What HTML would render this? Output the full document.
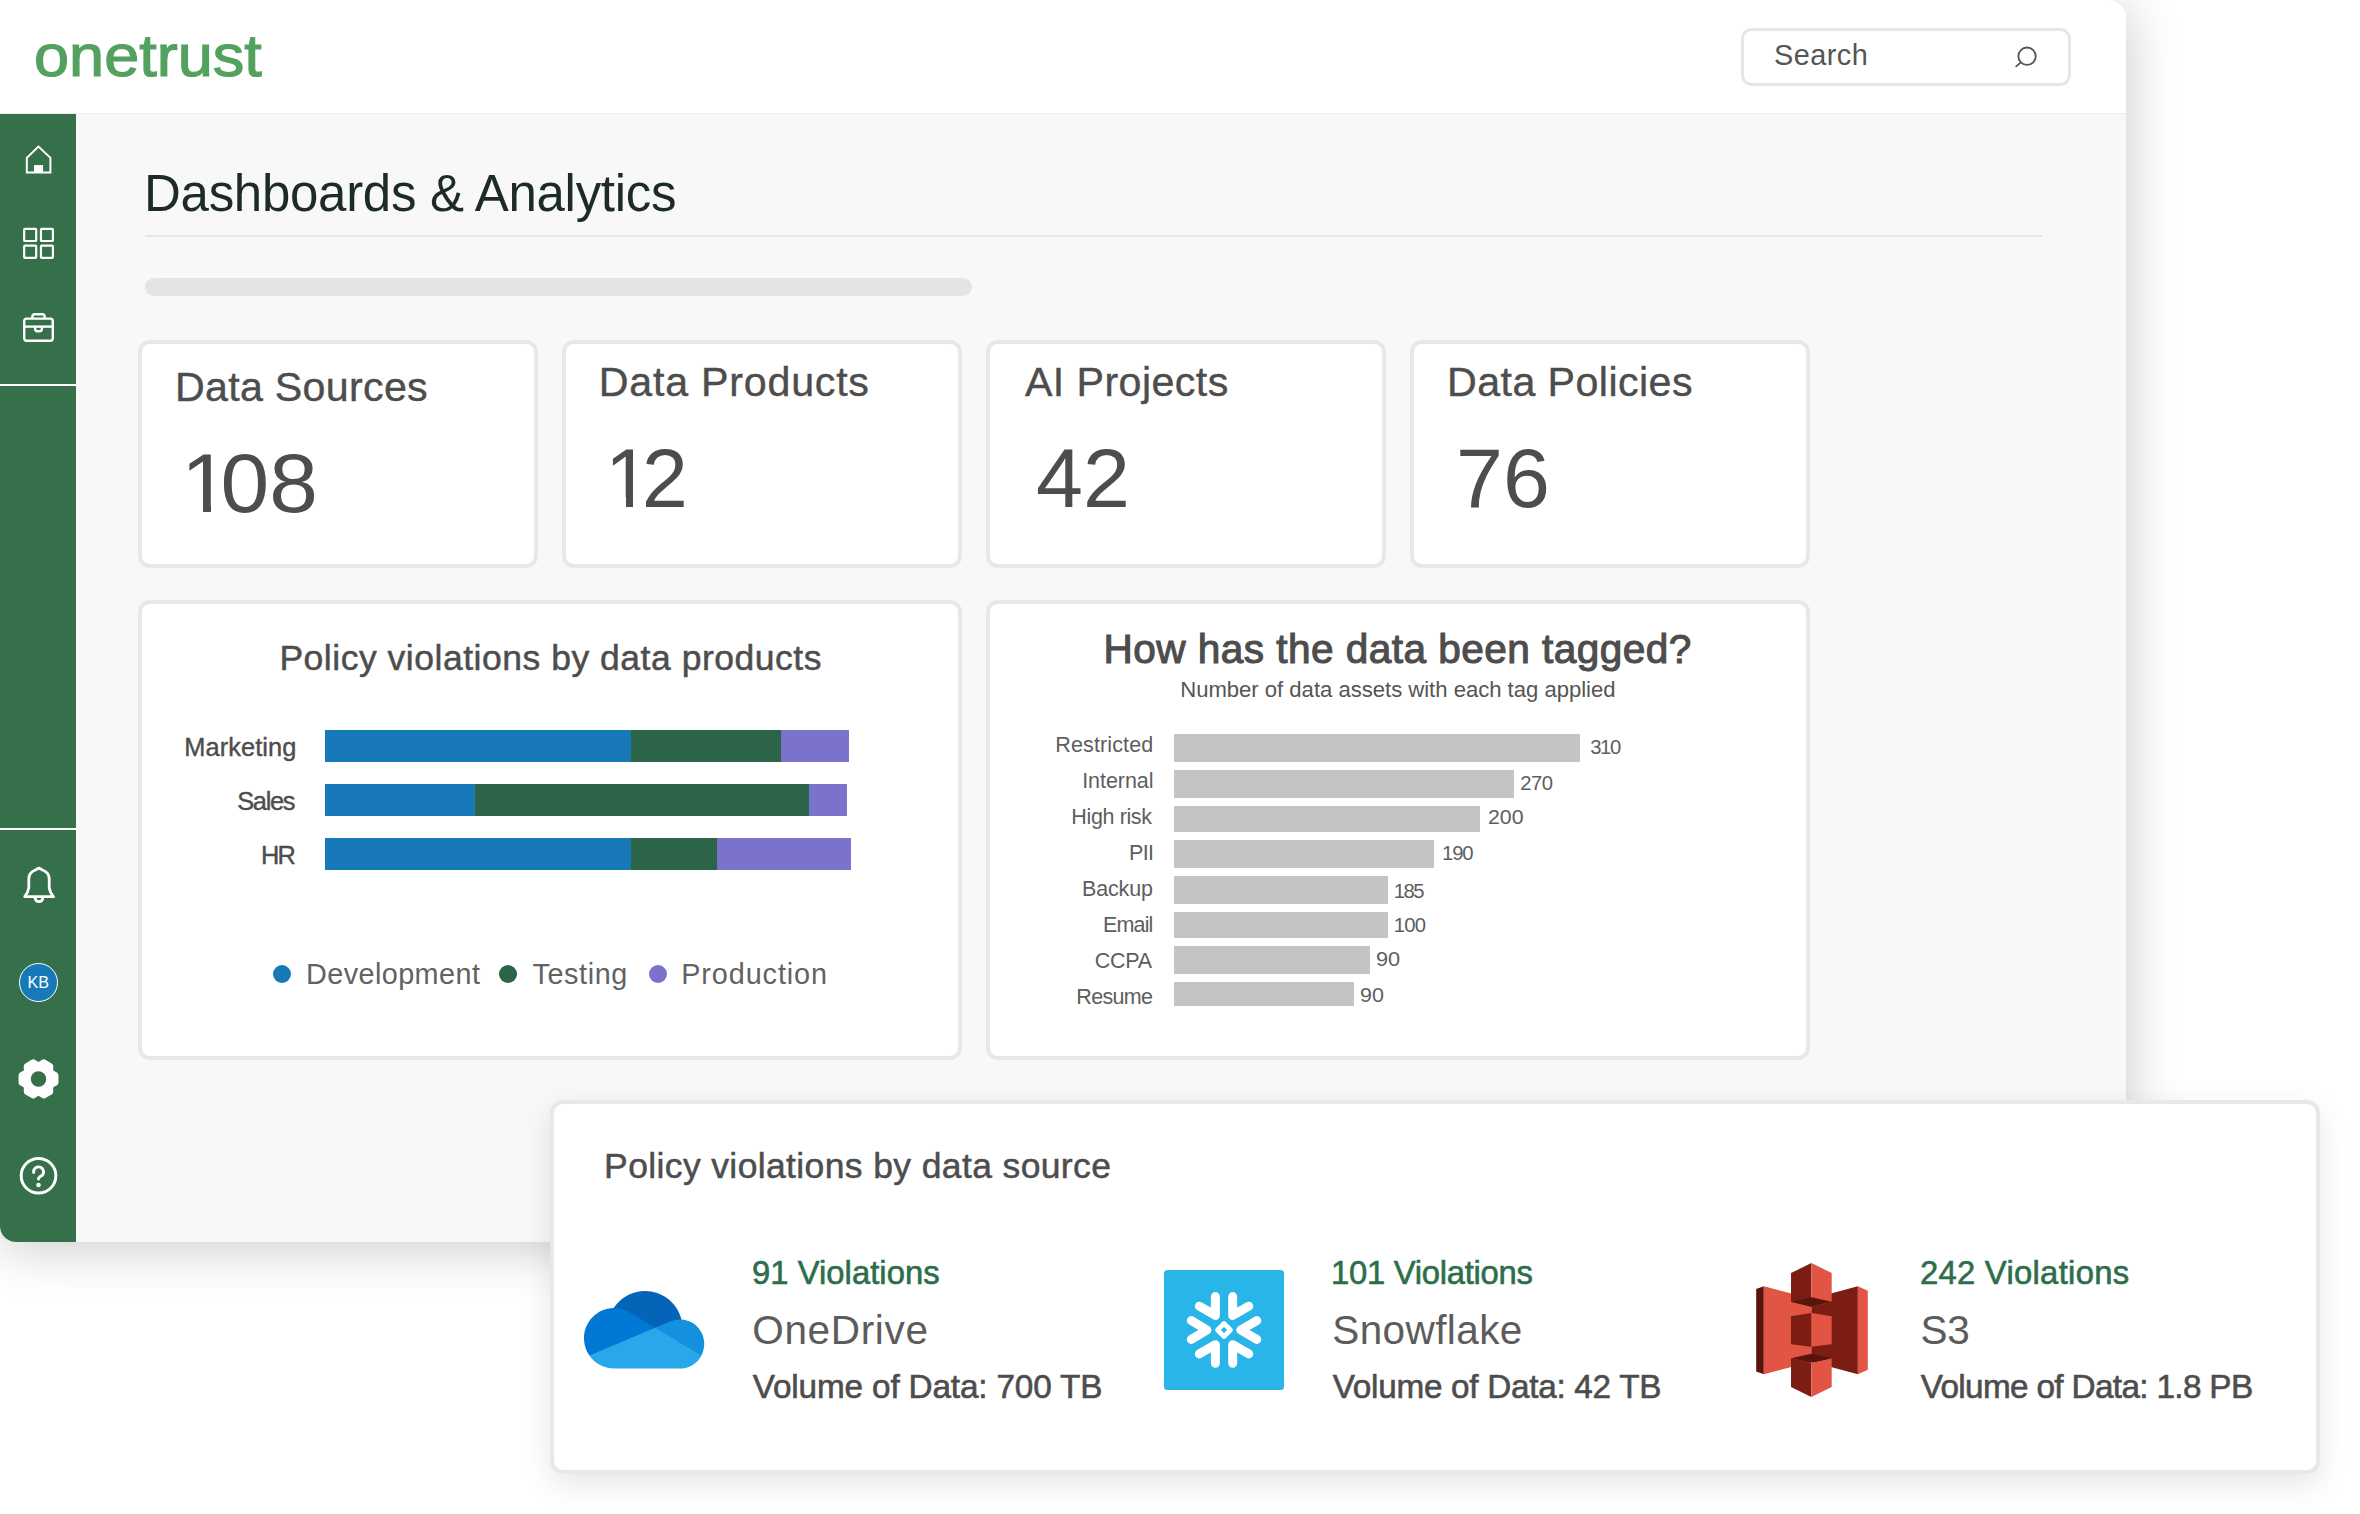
<!DOCTYPE html>
<html lang="en"><head><meta charset="utf-8"><title>OneTrust Dashboards &amp; Analytics</title>
<style>
html,body{margin:0;padding:0;background:#fff;}
body{width:2360px;height:1514px;position:relative;overflow:hidden;font-family:"Liberation Sans", sans-serif;}
header,nav,main,section,article{display:block;margin:0;padding:0;}
.abs{position:absolute;}
.t{position:absolute;margin:0;padding:0;white-space:nowrap;line-height:1;font-family:"Liberation Sans", sans-serif;font-weight:400;}
.window{position:absolute;left:0;top:0;width:2126px;height:1242px;background:#f8f8f8;border-radius:0 18px 0 16px;box-shadow:0 5px 54px rgba(0,0,0,0.22);overflow:hidden;}
.headerbg{position:absolute;left:0;top:0;width:2126px;height:113px;background:#fff;border-bottom:1px solid #ededed;}
.sidebar{position:absolute;left:0;top:114px;width:76px;height:1128px;background:#35704b;}
.sdiv{position:absolute;left:0;width:76px;height:2px;background:#fff;}
.searchbox{position:absolute;left:1741px;top:28px;width:330px;height:58px;box-sizing:border-box;border:3px solid #e6e6e6;border-radius:11px;background:#fff;}
.hr{position:absolute;left:145px;top:235px;width:1897px;height:2px;background:#e6e6e6;}
.pill{position:absolute;left:145px;top:278px;width:827px;height:18px;border-radius:9px;background:#e4e4e4;}
.card{position:absolute;box-sizing:border-box;background:#fff;border:4px solid #e8e8e8;border-radius:12px;}
.bar{position:absolute;}
.panel{position:absolute;left:550px;top:1100px;width:1770px;height:374px;box-sizing:border-box;background:#fff;border:4px solid #e8e8e8;border-radius:13px;box-shadow:0 10px 30px rgba(0,0,0,0.10);}
.dot{position:absolute;width:18px;height:18px;border-radius:50%;}
svg{position:absolute;overflow:visible;}
#c1n::first-letter{letter-spacing:-8.87px}
#c2n::first-letter{letter-spacing:-9.10px}
</style></head><body>
<div class="window"><div class="headerbg"></div><div class="sidebar"></div><div class="sdiv" style="top:384px"></div><div class="sdiv" style="top:828px"></div></div>
<header>
<div class="searchbox"></div>
<div class="t" id="logo" style="left:33.81px;top:27.00px;font-size:58.6px;color:#54a15f;transform:scaleX(1.0762);transform-origin:0 0;-webkit-text-stroke:1.2px #54a15f;">onetrust</div>
<div class="t" id="search" style="left:1774.12px;top:41.00px;font-size:28.9px;letter-spacing:0.410px;color:#555;">Search</div>
<svg style="left:2000px;top:40px" width="40" height="40" viewBox="0 0 40 40"><circle cx="27.05" cy="16.2" r="8.7" fill="none" stroke="#555" stroke-width="1.8"/><path d="M20.9 22.4 L16.2 26.4" stroke="#555" stroke-width="1.8" stroke-linecap="round" fill="none"/></svg>
</header>
<nav>
<div class="abs" style="left:19.1px;top:963.2px;width:38.8px;height:38.8px;box-sizing:border-box;border-radius:50%;background:#1779b8;border:1.5px solid #fff"></div>
<div class="t" id="kb" style="left:27.43px;top:974.00px;font-size:16.1px;letter-spacing:0.150px;color:#fff;">KB</div>
<svg style="left:8px;top:130px" width="60" height="60" viewBox="0 0 1514 1514"><path d="M770 418 L475 702 L475 1075 L1070 1075 L1070 702 Z" fill="none" stroke="#fff" stroke-width="50" stroke-linejoin="miter"/><rect x="655" y="885" width="230" height="190" fill="#fff"/></svg>
<svg style="left:8px;top:212px" width="60" height="60" viewBox="0 0 1514 1514" fill="none" stroke="#fff" stroke-width="55"><rect x="408" y="428" width="304" height="304" rx="22"/><rect x="831" y="428" width="302" height="304" rx="22"/><rect x="408" y="848" width="304" height="308" rx="22"/><rect x="831" y="848" width="302" height="308" rx="22"/></svg>
<svg style="left:8px;top:298px" width="60" height="60" viewBox="0 0 1514 1514" fill="none" stroke="#fff" stroke-width="60" stroke-linejoin="round"><rect x="410" y="520" width="720" height="560" rx="62"/><path d="M615 520 L615 472 Q615 410 677 410 L863 410 Q925 410 925 472 L925 520"/><path d="M410 722 L1130 722"/><path d="M685 722 L685 782 Q685 840 745 840 L795 840 Q855 840 855 782 L855 722"/></svg>
<svg style="left:8px;top:856px" width="60" height="60" viewBox="0 0 1514 1514" fill="none" stroke="#fff" stroke-width="70" stroke-linejoin="round" stroke-linecap="round"><path d="M420 1025 Q512 920 525 800 L525 580 C525 450 600 390 690 355 L780 305 L870 355 C960 390 1040 450 1040 580 L1040 800 Q1053 920 1150 1025 Z"/><path d="M685 1065 A97 97 0 0 0 878 1065"/></svg>
<svg style="left:8px;top:1048px" width="60" height="60" viewBox="0 0 1514 1514"><path d="M1224.4 611.2 Q1273.7 635.6 1273.7 690.6 L1273.7 869.4 Q1273.7 924.4 1224.4 948.8 L1162.3 979.6 Q1137.2 992.0 1139.0 1019.9 L1143.4 1089.1 Q1146.9 1144.0 1099.3 1171.5 L944.4 1260.9 Q896.8 1288.4 851.0 1257.9 L793.3 1219.5 Q770.0 1204.0 746.7 1219.5 L689.0 1257.9 Q643.2 1288.4 595.6 1260.9 L440.7 1171.5 Q393.1 1144.0 396.6 1089.1 L401.0 1019.9 Q402.8 992.0 377.7 979.6 L315.6 948.8 Q266.3 924.4 266.3 869.4 L266.3 690.6 Q266.3 635.6 315.6 611.2 L377.7 580.4 Q402.8 568.0 401.0 540.1 L396.6 470.9 Q393.1 416.0 440.7 388.5 L595.6 299.1 Q643.2 271.6 689.0 302.1 L746.7 340.5 Q770.0 356.0 793.3 340.5 L851.0 302.1 Q896.8 271.6 944.4 299.1 L1099.3 388.5 Q1146.9 416.0 1143.4 470.9 L1139.0 540.1 Q1137.2 568.0 1162.3 580.4 Z" fill="#fff"/><circle cx="770" cy="780" r="195" fill="#35704b"/></svg>
<svg style="left:8px;top:1145px" width="60" height="60" viewBox="0 0 1514 1514" fill="none" stroke="#fff" stroke-width="75" stroke-linecap="round"><circle cx="770" cy="775" r="437"/><path d="M647 690 A125 125 0 1 1 858 768 C800 800 770 812 770 858"/><circle cx="770" cy="1010" r="58" fill="#fff" stroke="none"/></svg>
</nav>
<main>
<div class="hr"></div><div class="pill"></div>
<h1 class="t" id="title" style="left:144.07px;top:168.00px;font-size:51.0px;letter-spacing:-0.296px;color:#1c2b24;">Dashboards &amp; Analytics</h1>
<section class="stats">
<article>
<div class="card" style="left:138px;top:340px;width:400px;height:228px"></div>
<h3 class="t" id="c1t" style="left:174.92px;top:367.00px;font-size:41.2px;letter-spacing:0.295px;color:#4d4d4d;-webkit-text-stroke:0.4px #4d4d4d;">Data Sources</h3>
<div class="t" id="c1n" style="left:180.55px;top:441.00px;font-size:84px;color:#4d4d4d;transform:scaleX(1.0424);transform-origin:0 0;">108</div>
<div class="abs" style="left:186.50px;top:502px;width:16.50px;height:13px;background:#fff"></div><div class="abs" style="left:211.00px;top:502px;width:15.50px;height:13px;background:#fff"></div>
</article>
<article>
<div class="card" style="left:562px;top:340px;width:400px;height:228px"></div>
<h3 class="t" id="c2t" style="left:598.83px;top:362.00px;font-size:41.2px;letter-spacing:0.762px;color:#4d4d4d;-webkit-text-stroke:0.4px #4d4d4d;">Data Products</h3>
<div class="t" id="c2n" style="left:605.35px;top:436.00px;font-size:84px;color:#4d4d4d;transform:scaleX(0.9804);transform-origin:0 0;">12</div>
<div class="abs" style="left:609.50px;top:497px;width:16.20px;height:13px;background:#fff"></div><div class="abs" style="left:633.00px;top:497px;width:13.00px;height:13px;background:#fff"></div>
</article>
<article>
<div class="card" style="left:986px;top:340px;width:400px;height:228px"></div>
<h3 class="t" id="c3t" style="left:1024.88px;top:362.00px;font-size:41.2px;letter-spacing:0.427px;color:#4d4d4d;-webkit-text-stroke:0.4px #4d4d4d;">AI Projects</h3>
<div class="t" id="c3n" style="left:1035.62px;top:436.00px;font-size:84px;color:#4d4d4d;transform:scaleX(1.0049);transform-origin:0 0;">42</div>
</article>
<article>
<div class="card" style="left:1410px;top:340px;width:400px;height:228px"></div>
<h3 class="t" id="c4t" style="left:1447.03px;top:362.00px;font-size:41.2px;letter-spacing:0.431px;color:#4d4d4d;-webkit-text-stroke:0.4px #4d4d4d;">Data Policies</h3>
<div class="t" id="c4n" style="left:1456.04px;top:436.00px;font-size:84px;color:#4d4d4d;transform:scaleX(1.0035);transform-origin:0 0;">76</div>
</article>
</section>
<section class="chart">
<div class="card" style="left:138px;top:600px;width:824px;height:460px"></div>
<div class="bar" style="left:324.9px;top:729.8px;width:305.9px;height:32.1px;background:#1779b8"></div>
<div class="bar" style="left:630.8px;top:729.8px;width:149.9px;height:32.1px;background:#2b6447"></div>
<div class="bar" style="left:780.7px;top:729.8px;width:68.2px;height:32.1px;background:#7b72cc"></div>
<div class="bar" style="left:324.9px;top:784.2px;width:150.0px;height:31.6px;background:#1779b8"></div>
<div class="bar" style="left:474.9px;top:784.2px;width:333.9px;height:31.6px;background:#2b6447"></div>
<div class="bar" style="left:808.8px;top:784.2px;width:38.6px;height:31.6px;background:#7b72cc"></div>
<div class="bar" style="left:324.9px;top:838.2px;width:305.9px;height:31.8px;background:#1779b8"></div>
<div class="bar" style="left:630.8px;top:838.2px;width:86.2px;height:31.8px;background:#2b6447"></div>
<div class="bar" style="left:717.0px;top:838.2px;width:133.7px;height:31.8px;background:#7b72cc"></div>
<div class="dot" style="left:272.9px;top:964.6px;background:#1779b8"></div>
<div class="dot" style="left:499.3px;top:964.6px;background:#2b6447"></div>
<div class="dot" style="left:648.8px;top:964.6px;background:#7b72cc"></div>
<h2 class="t" id="ch1t" style="left:279.38px;top:641.00px;font-size:35.5px;letter-spacing:0.520px;color:#4d4d4d;-webkit-text-stroke:0.5px #4d4d4d;">Policy violations by data products</h2>
<div class="t" id="l1" style="left:184.27px;top:735.00px;font-size:25.4px;letter-spacing:0.069px;color:#4d4d4d;-webkit-text-stroke:0.4px #4d4d4d;">Marketing</div>
<div class="t" id="l2" style="left:237.17px;top:789.00px;font-size:25.4px;letter-spacing:-1.275px;color:#4d4d4d;-webkit-text-stroke:0.4px #4d4d4d;">Sales</div>
<div class="t" id="l3" style="left:261.07px;top:843.00px;font-size:25.4px;letter-spacing:-1.775px;color:#4d4d4d;-webkit-text-stroke:0.4px #4d4d4d;">HR</div>
<div class="t" id="lg1" style="left:306.02px;top:960.00px;font-size:28.8px;letter-spacing:0.420px;color:#626262;">Development</div>
<div class="t" id="lg2" style="left:532.38px;top:960.00px;font-size:28.8px;letter-spacing:0.625px;color:#626262;">Testing</div>
<div class="t" id="lg3" style="left:681.23px;top:960.00px;font-size:28.8px;letter-spacing:0.903px;color:#626262;">Production</div>
</section>
<section class="chart">
<div class="card" style="left:986px;top:600px;width:824px;height:460px"></div>
<div class="bar" style="left:1174.2px;top:734.2px;width:405.8px;height:27.4px;background:#c4c4c4"></div>
<div class="bar" style="left:1174.2px;top:770.1px;width:339.6px;height:27.5px;background:#c4c4c4"></div>
<div class="bar" style="left:1174.2px;top:806.0px;width:305.8px;height:25.5px;background:#c4c4c4"></div>
<div class="bar" style="left:1174.2px;top:840.2px;width:259.8px;height:27.5px;background:#c4c4c4"></div>
<div class="bar" style="left:1174.2px;top:876.2px;width:213.8px;height:27.4px;background:#c4c4c4"></div>
<div class="bar" style="left:1174.2px;top:912.1px;width:213.8px;height:25.5px;background:#c4c4c4"></div>
<div class="bar" style="left:1174.2px;top:946.3px;width:195.8px;height:27.3px;background:#c4c4c4"></div>
<div class="bar" style="left:1174.2px;top:982.2px;width:179.6px;height:23.6px;background:#c4c4c4"></div>
<h2 class="t" id="ch2t" style="left:1103.38px;top:629.00px;font-size:40.6px;letter-spacing:0.455px;color:#4d4d4d;-webkit-text-stroke:1.1px #4d4d4d;">How has the data been tagged?</h2>
<p class="t" id="ch2s" style="left:1180.22px;top:679.00px;font-size:22.1px;letter-spacing:-0.016px;color:#555;">Number of data assets with each tag applied</p>
<div class="t" id="t1" style="left:1055.25px;top:735.00px;font-size:21.5px;letter-spacing:0.139px;color:#5e5e5e;">Restricted</div>
<div class="t" id="t2" style="left:1082.20px;top:771.00px;font-size:21.5px;letter-spacing:-0.064px;color:#5e5e5e;">Internal</div>
<div class="t" id="t3" style="left:1071.35px;top:807.00px;font-size:21.5px;letter-spacing:-0.372px;color:#5e5e5e;">High risk</div>
<div class="t" id="t4" style="left:1129.05px;top:843.00px;font-size:21.5px;letter-spacing:-0.712px;color:#5e5e5e;">PII</div>
<div class="t" id="t5" style="left:1081.95px;top:879.00px;font-size:21.5px;letter-spacing:-0.140px;color:#5e5e5e;">Backup</div>
<div class="t" id="t6" style="left:1103.05px;top:915.00px;font-size:21.5px;letter-spacing:-0.856px;color:#5e5e5e;">Email</div>
<div class="t" id="t7" style="left:1094.78px;top:951.00px;font-size:21.5px;letter-spacing:-0.258px;color:#5e5e5e;">CCPA</div>
<div class="t" id="t8" style="left:1076.35px;top:987.00px;font-size:21.5px;letter-spacing:-0.695px;color:#5e5e5e;">Resume</div>
<div class="t" id="v1" style="left:1590.25px;top:737.00px;font-size:20.3px;letter-spacing:-1.438px;color:#5e5e5e;">310</div>
<div class="t" id="v2" style="left:1520.30px;top:773.00px;font-size:20.3px;letter-spacing:-0.562px;color:#5e5e5e;">270</div>
<div class="t" id="v3" style="left:1488.45px;top:807.00px;font-size:20.3px;color:#5e5e5e;transform:scaleX(1.0521);transform-origin:0 0;">200</div>
<div class="t" id="v4" style="left:1442.00px;top:843.00px;font-size:20.3px;letter-spacing:-1.112px;color:#5e5e5e;">190</div>
<div class="t" id="v5" style="left:1393.70px;top:881.00px;font-size:20.3px;letter-spacing:-1.550px;color:#5e5e5e;">185</div>
<div class="t" id="v6" style="left:1393.70px;top:915.00px;font-size:20.3px;letter-spacing:-0.712px;color:#5e5e5e;">100</div>
<div class="t" id="v7" style="left:1376.33px;top:949.00px;font-size:20.3px;color:#5e5e5e;transform:scaleX(1.0747);transform-origin:0 0;">90</div>
<div class="t" id="v8" style="left:1360.34px;top:985.00px;font-size:20.3px;color:#5e5e5e;transform:scaleX(1.0602);transform-origin:0 0;">90</div>
</section>
<section class="sources">
<div class="panel"></div>
<h2 class="t" id="pt" style="left:604.08px;top:1149.00px;font-size:35.5px;letter-spacing:0.373px;color:#4d4d4d;-webkit-text-stroke:0.5px #4d4d4d;">Policy violations by data source</h2>
<div class="t" id="p1v" style="left:752.00px;top:1257.00px;font-size:32.8px;letter-spacing:0.031px;color:#2d6e4a;-webkit-text-stroke:0.6px #2d6e4a;">91 Violations</div>
<div class="t" id="p1n" style="left:752.23px;top:1310.00px;font-size:40.5px;letter-spacing:0.661px;color:#5c5c5c;">OneDrive</div>
<div class="t" id="p1d" style="left:752.77px;top:1370.00px;font-size:33.3px;letter-spacing:-0.152px;color:#4d4d4d;-webkit-text-stroke:0.6px #4d4d4d;">Volume of Data: 700 TB</div>
<div class="t" id="p2v" style="left:1331.00px;top:1257.00px;font-size:32.8px;letter-spacing:-0.273px;color:#2d6e4a;-webkit-text-stroke:0.6px #2d6e4a;">101 Violations</div>
<div class="t" id="p2n" style="left:1332.22px;top:1310.00px;font-size:40.5px;letter-spacing:0.406px;color:#5c5c5c;">Snowflake</div>
<div class="t" id="p2d" style="left:1332.77px;top:1370.00px;font-size:33.3px;letter-spacing:-0.285px;color:#4d4d4d;-webkit-text-stroke:0.6px #4d4d4d;">Volume of Data: 42 TB</div>
<div class="t" id="p3v" style="left:1919.88px;top:1257.00px;font-size:32.8px;letter-spacing:0.290px;color:#2d6e4a;-webkit-text-stroke:0.6px #2d6e4a;">242 Violations</div>
<div class="t" id="p3n" style="left:1920.53px;top:1310.00px;font-size:40.5px;letter-spacing:-0.275px;color:#5c5c5c;">S3</div>
<div class="t" id="p3d" style="left:1920.77px;top:1370.00px;font-size:33.3px;letter-spacing:-0.655px;color:#4d4d4d;-webkit-text-stroke:0.6px #4d4d4d;">Volume of Data: 1.8 PB</div>
<svg style="left:583.6px;top:1291px" width="120.3" height="77.6" viewBox="0 0 1030.04 659.922" preserveAspectRatio="none"><path d="M622.292 445.338 834.903 242.01C790.74 69.804 615.338-33.996 443.13 10.168 365.58 30.056 298.224 78.13 254.209 145.005c3.29-.083 368.083 300.333 368.083 300.333Z" fill="#0364b8"/><path d="m392.776 183.283-.01.035c-40.626-25.162-87.479-38.462-135.267-38.397-1.104 0-2.189.07-3.292.083C112.064 146.765-1.74 263.423.02 405.567c.638 51.562 16.749 101.743 46.244 144.04l318.528-39.894 244.21-196.915Z" fill="#0078d4"/><path d="M834.903 242.01c-4.674-.312-9.371-.528-14.123-.528-28.523-.028-56.749 5.798-82.93 17.117l-.006-.022-128.844 54.22 142.041 175.456 253.934 61.728c54.8-101.732 16.752-228.625-84.98-283.424-26.287-14.16-55.301-22.529-85.091-24.546Z" fill="#1490df"/><path d="M46.264 549.607C94.359 618.756 173.27 659.966 257.5 659.922h563.28c76.946.022 147.691-42.202 184.195-109.937L609.001 312.798Z" fill="#28a8ea"/></svg>
<div class="abs" style="left:1164px;top:1270px;width:120px;height:120px;border-radius:3.5px;background:#29b5e8"></div>
<svg style="left:1160px;top:1266px" width="128" height="128" viewBox="0 0 1514 1514" fill="none" stroke="#fff" stroke-width="106" stroke-linecap="round" stroke-linejoin="round"><path d="M655 362 L655 585 L465 475"/><path d="M860 362 L860 585 L1050 475"/><path d="M655 1150 L655 930 L465 1040"/><path d="M860 1150 L860 930 L1050 1040"/><path d="M370 645 L555 757 L370 868"/><path d="M1145 645 L955 757 L1145 868"/><path d="M757 680 L834 757 L757 834 L680 757 Z" stroke-width="55"/></svg>
<svg style="left:1730px;top:1240px" width="600" height="180" viewBox="0 0 2360 708"><polygon points="103,193 133,182 133,528 103,517" fill="#58150d"/><polygon points="133,182 320,231 320,479 133,528" fill="#e25444"/><polygon points="320,231 503,182 503,528 320,479" fill="#7b1d13"/><polygon points="503,182 542,200 542,510 503,528" fill="#e25444"/><polygon points="240,130 320,90 320,263 240,243" fill="#7b1d13"/><polygon points="320,90 400,130 400,243 320,263" fill="#e25444"/><polygon points="240,243 320,225 400,243 320,263" fill="#58150d"/><polygon points="240,300 320,287 320,420 240,410" fill="#7b1d13"/><polygon points="320,287 400,300 400,410 320,420" fill="#e25444"/><polygon points="240,465 320,483 320,618 240,578" fill="#7b1d13"/><polygon points="320,483 400,465 400,578 320,618" fill="#e25444"/><polygon points="240,465 320,447 400,465 320,483" fill="#58150d"/></svg>
</section>
</main>
</body></html>
